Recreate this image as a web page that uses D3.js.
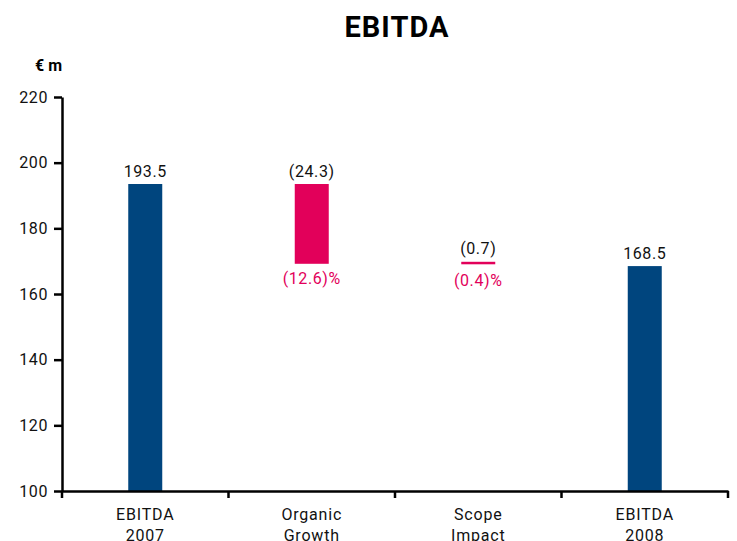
<!DOCTYPE html>
<html>
<head>
<meta charset="utf-8">
<script src="https://cdn.jsdelivr.net/npm/d3@7"></script>
<style>
  body { margin: 0; background: #fff; }
  svg text { font-family: Roboto, "DejaVu Sans", sans-serif; }
</style>
</head>
<body>
<div id="chart"></div>
<script>
const width = 737;
const height = 541;

// data
const categories = ["EBITDA 2007", "Organic Growth", "Scope Impact", "EBITDA 2008"];
const starts = [100, 193.5, 169.2, 100];
const ends = [193.5, 169.2, 168.5, 168.5];
const valueLabels = ["193.5", "(24.3)", "(0.7)", "168.5"];
const pctLabels = ["", "(12.6)%", "(0.4)%", ""];
const kinds = ["total", "delta", "delta", "total"];
const yTicks = [100, 120, 140, 160, 180, 200, 220];

const blue = "#00457e";
const pink = "#e2005a";

const svg = d3.select("#chart").append("svg")
    .attr("width", width)
    .attr("height", height);

const x = d3.scaleBand()
    .domain(categories)
    .range([62, 728])
    .padding(0);

const y = d3.scaleLinear()
    .domain([100, 220])
    .range([491, 97]);

const barW = 34;

// title
svg.append("text")
    .attr("x", 397)
    .attr("y", 37)
    .attr("text-anchor", "middle")
    .style("font-size", "29px")
    .style("font-weight", "bold")
    .style("letter-spacing", "1px")
    .text("EBITDA");

svg.append("text")
    .attr("x", 62)
    .attr("y", 71)
    .attr("text-anchor", "end")
    .style("font-size", "16px")
    .style("font-weight", "bold")
    .text("€ m");

// bars
const rows = categories.map((c, i) => ({
    cat: c, s: starts[i], e: ends[i], lab: valueLabels[i], pct: pctLabels[i], kind: kinds[i]
}));

svg.selectAll("rect.bar")
    .data(rows)
    .enter()
    .append("rect")
    .attr("class", "bar")
    .attr("x", d => x(d.cat) + x.bandwidth() / 2 - barW / 2)
    .attr("width", barW)
    .attr("y", d => y(Math.max(d.s, d.e)) - (d.kind == "delta" && Math.abs(d.s - d.e) < 1 ? 2 : 0))
    .attr("height", d => Math.max(2.5, Math.abs(y(d.s) - y(d.e))))
    .attr("fill", d => d.kind == "total" ? blue : pink);

// value labels
svg.selectAll("text.val")
    .data(rows)
    .enter()
    .append("text")
    .attr("class", "val")
    .attr("x", d => x(d.cat) + x.bandwidth() / 2)
    .attr("y", d => y(Math.max(d.s, d.e)) - (Math.abs(d.s - d.e) < 1 ? 10 : 7))
    .attr("text-anchor", "middle")
    .style("font-size", "16px")
    .style("letter-spacing", "0.6px")
    .attr("fill", "#111")
    .text(d => d.lab);

svg.selectAll("text.pct")
    .data(rows.filter(d => d.pct))
    .enter()
    .append("text")
    .attr("class", "pct")
    .attr("x", d => x(d.cat) + x.bandwidth() / 2)
    .attr("y", d => y(Math.min(d.s, d.e)) + 20)
    .attr("text-anchor", "middle")
    .style("font-size", "16px")
    .style("letter-spacing", "0.6px")
    .attr("fill", pink)
    .text(d => d.pct);

// axes
const yAxis = svg.append("g")
    .attr("transform", "translate(62,0)")
    .call(d3.axisLeft(y).tickValues(yTicks).tickSize(8).tickSizeOuter(0).tickPadding(6));

const xAxis = svg.append("g")
    .attr("transform", "translate(0,491)")
    .call(d3.axisBottom(x).tickSize(0).tickFormat(""));

xAxis.selectAll(".tick").remove();
xAxis.selectAll(".xtick")
    .data(d3.range(categories.length + 1))
    .enter()
    .append("line")
    .attr("class", "xtick")
    .attr("x1", i => 62 + i * x.bandwidth())
    .attr("x2", i => 62 + i * x.bandwidth())
    .attr("y1", 0)
    .attr("y2", 7)
    .attr("stroke", "#000")
    .attr("stroke-width", 2.5);

[yAxis, xAxis].forEach(g => {
    g.select(".domain").attr("stroke", "#000").attr("stroke-width", 2.5);
    g.selectAll(".tick line").attr("stroke", "#000").attr("stroke-width", 2.5);
    g.selectAll(".tick text")
        .style("font-size", "16px")
        .style("letter-spacing", "0.6px")
        .attr("fill", "#111");
});

// category labels, two lines each (second line runs off the bottom, as in the original)
categories.forEach(c => {
    const parts = c.split(" ");
    const t = svg.append("text")
        .attr("x", x(c) + x.bandwidth() / 2)
        .attr("y", 520)
        .attr("text-anchor", "middle")
        .style("font-size", "16px")
        .style("letter-spacing", "0.8px")
        .attr("fill", "#111");
    parts.forEach((p, i) => {
        t.append("tspan")
            .attr("x", x(c) + x.bandwidth() / 2)
            .attr("dy", i == 0 ? 0 : 21)
            .text(p);
    });
});
</script>
</body>
</html>
